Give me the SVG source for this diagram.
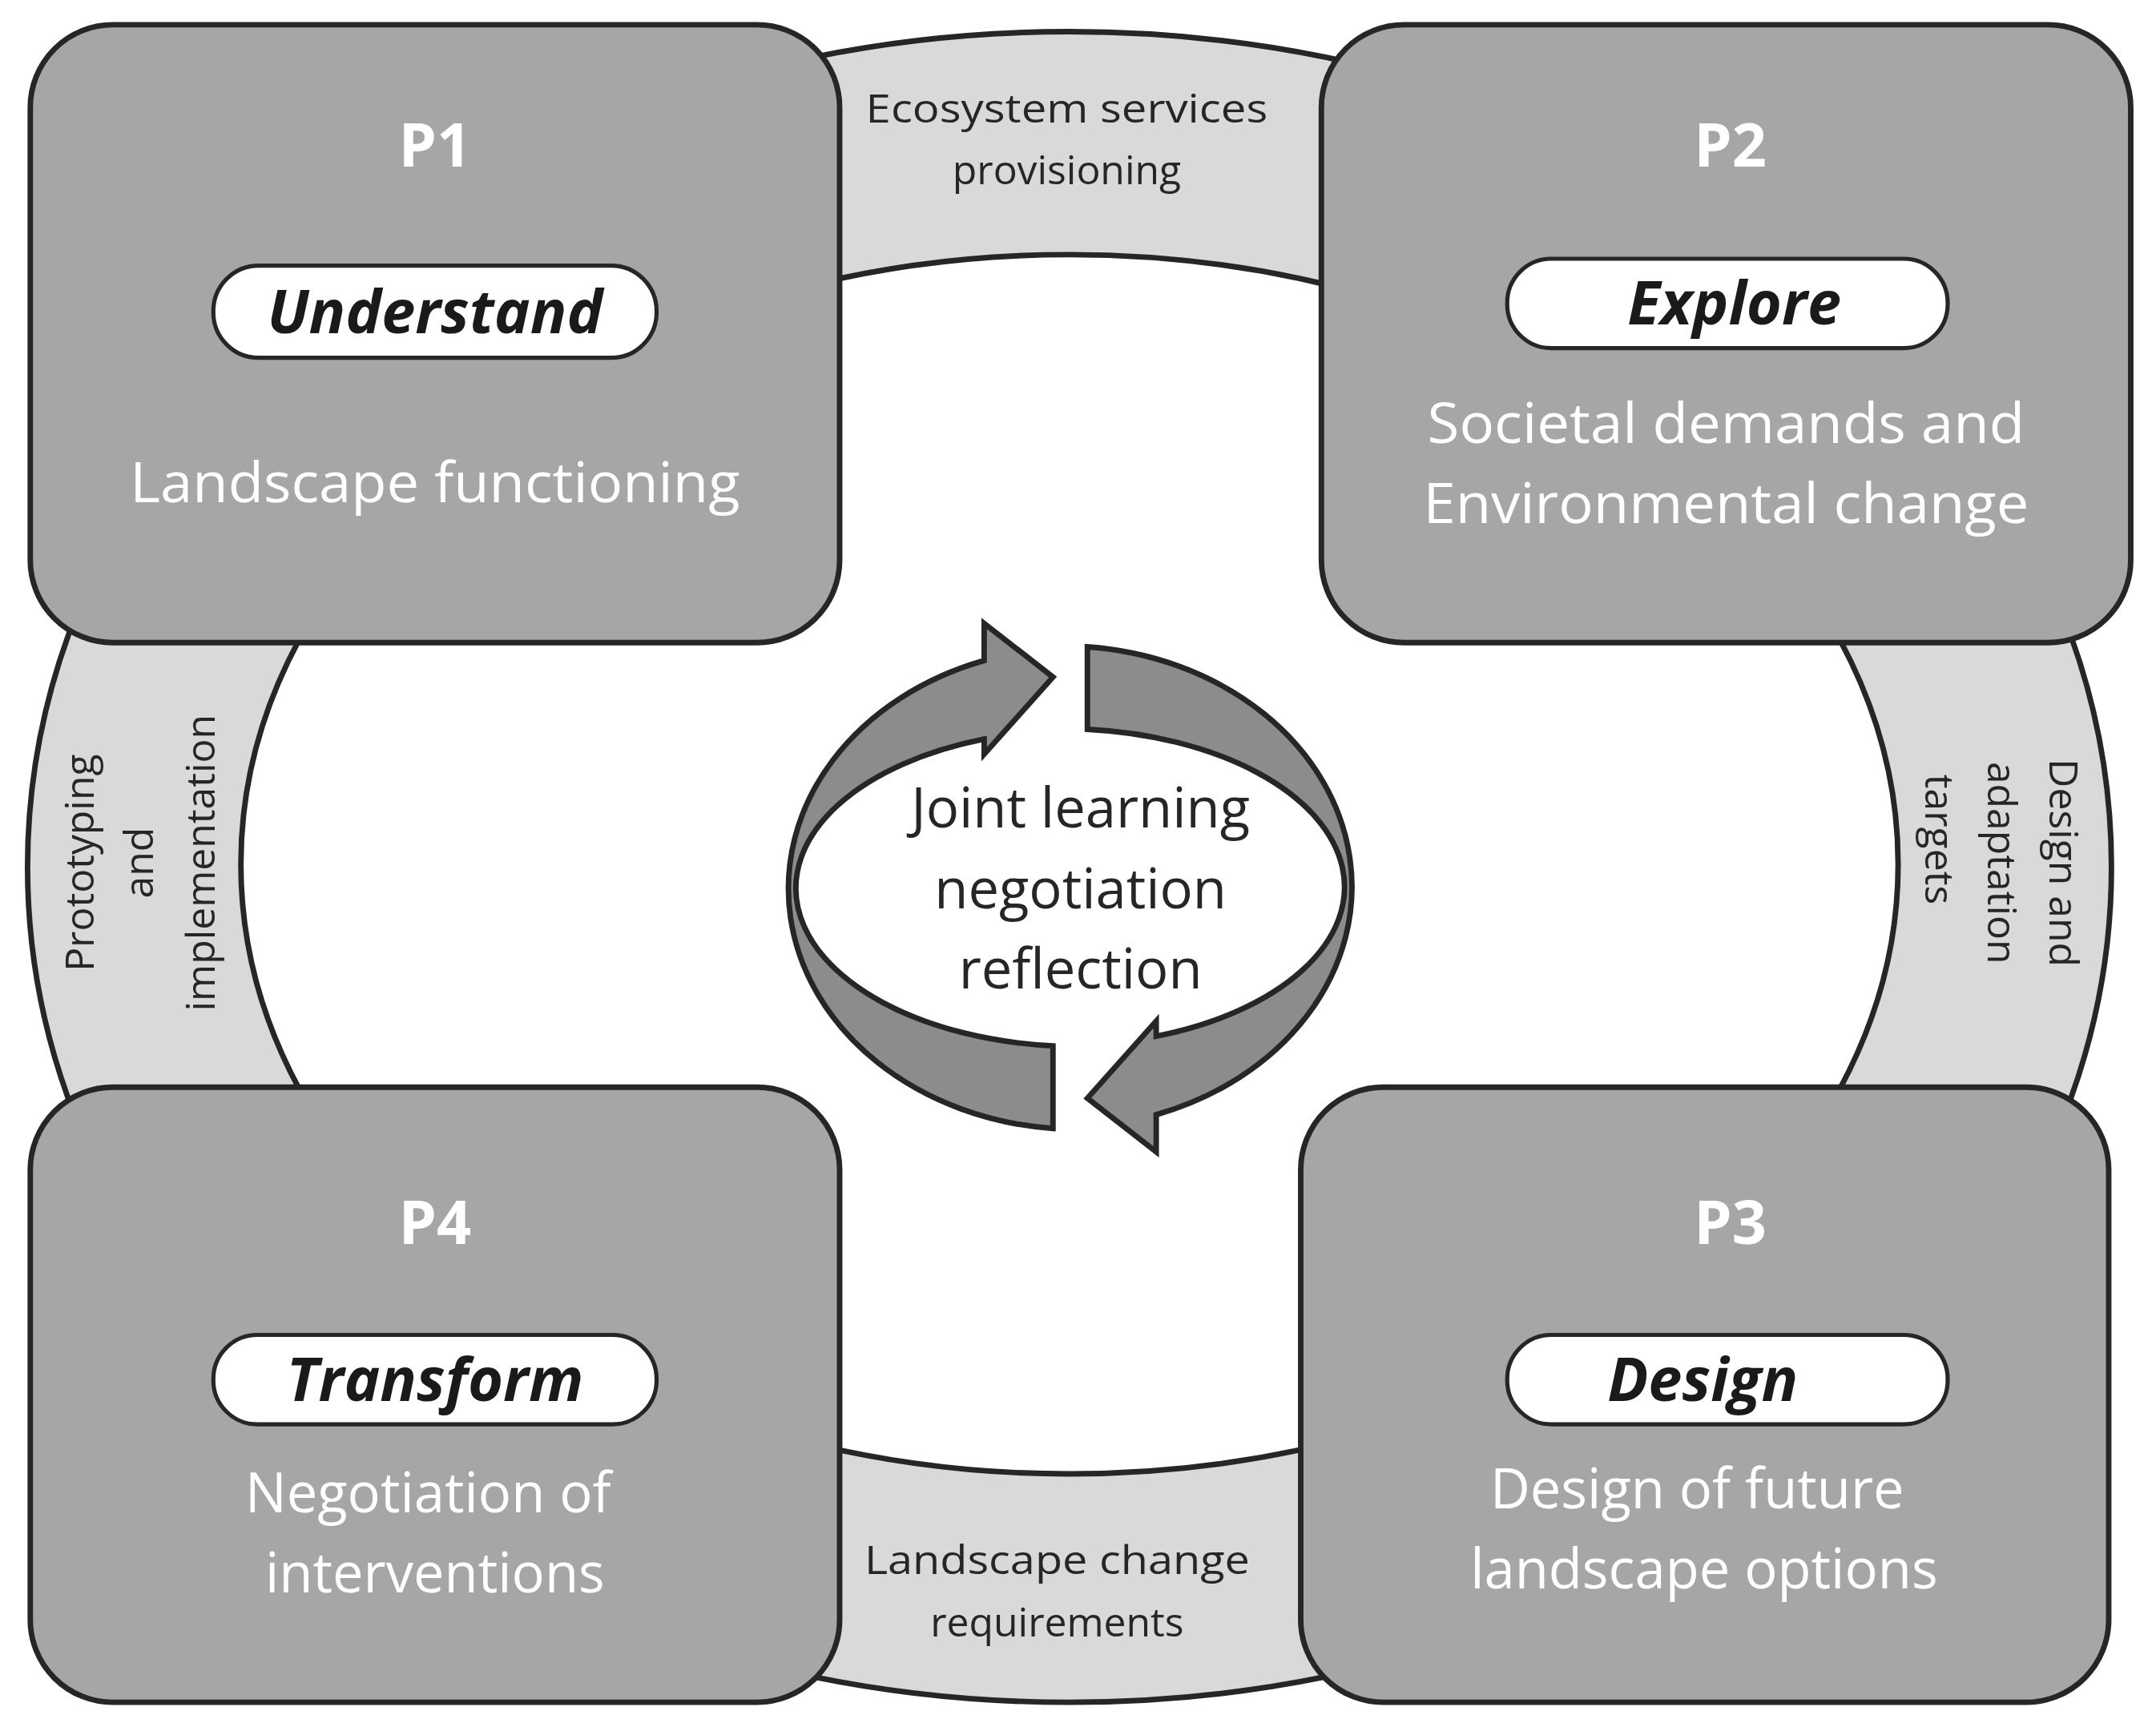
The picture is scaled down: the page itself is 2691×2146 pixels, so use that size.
<svg xmlns="http://www.w3.org/2000/svg" width="2691" height="2146" viewBox="0 0 2691 2146">
<style>
.box{fill:#a6a6a6;stroke:#262626;stroke-width:4}
.pill{fill:#fff;stroke:#262626;stroke-width:3}
.pn{font-family:"Open Sans",sans-serif;font-weight:bold;font-size:44px;fill:#fff;text-anchor:middle}
.vb{font-family:"Open Sans",sans-serif;font-weight:bold;font-style:italic;font-size:44px;fill:#1a1a1a;text-anchor:middle}
.ds{font-family:"Open Sans",sans-serif;font-size:40px;fill:#fff;text-anchor:middle}
.rl{font-family:"Open Sans",sans-serif;font-size:29px;fill:#262626;text-anchor:middle}
.ct{font-family:"Open Sans",sans-serif;font-size:40px;fill:#262626;text-anchor:middle}
.arr{fill:#8c8c8c;stroke:#262626;stroke-width:4;stroke-linejoin:miter}
</style>
<rect width="2691" height="2146" fill="#fff"/>
<g transform="scale(1.718)">
<g id="ring">
<ellipse cx="777" cy="630" rx="757" ry="607" fill="#d9d9d9" stroke="#262626" stroke-width="4"/>
<ellipse cx="777" cy="628" rx="602" ry="443" fill="#fff" stroke="#262626" stroke-width="4"/>
</g>
<g id="connectors">
<text class="rl" x="775" y="89" textLength="292" lengthAdjust="spacingAndGlyphs">Ecosystem services</text>
<text class="rl" x="775" y="134">provisioning</text>
<text class="rl" x="768" y="1144" textLength="280" lengthAdjust="spacingAndGlyphs">Landscape change</text>
<text class="rl" x="768" y="1189">requirements</text>
<text class="rl" transform="translate(68,627) rotate(-90)">Prototyping</text>
<text class="rl" transform="translate(111,627) rotate(-90)">and</text>
<text class="rl" transform="translate(156,627) rotate(-90)">implementation</text>
<text class="rl" transform="translate(1489,627) rotate(90)">Design and</text>
<text class="rl" transform="translate(1444,627) rotate(90)">adaptation</text>
<text class="rl" transform="translate(1399,610) rotate(90)">targets</text>
</g>
<g id="cycle">
<path class="arr" d="M765 820 A210 175 0 0 1 715 480 L715 453 L765 492 L715 548 L715 537 A205 115 0 0 0 765 760 Z"/>
<path class="arr" transform="rotate(180 777.5 645)" d="M765 820 A210 175 0 0 1 715 480 L715 453 L765 492 L715 548 L715 537 A205 115 0 0 0 765 760 Z"/>
<text class="ct" x="785" y="601">Joint learning</text>
<text class="ct" x="785" y="660">negotiation</text>
<text class="ct" x="785" y="718">reflection</text>
</g>
<g id="p1">
<rect class="box" x="22" y="18" width="588" height="449" rx="60"/>
<text class="pn" x="316" y="121">P1</text>
<rect class="pill" x="155" y="193" width="322" height="67" rx="33"/>
<text class="vb" x="316" y="242">Understand</text>
<text class="ds" x="316" y="365" textLength="443" lengthAdjust="spacingAndGlyphs">Landscape functioning</text>
</g>
<g id="p2">
<rect class="box" x="960" y="18" width="588" height="449" rx="60"/>
<text class="pn" x="1257" y="121">P2</text>
<rect class="pill" x="1095" y="188" width="320" height="65" rx="32"/>
<text class="vb" x="1260" y="236">Explore</text>
<text class="ds" x="1254" y="322" textLength="434" lengthAdjust="spacingAndGlyphs">Societal demands and</text>
<text class="ds" x="1254" y="380" textLength="440" lengthAdjust="spacingAndGlyphs">Environmental change</text>
</g>
<g id="p4">
<rect class="box" x="22" y="790" width="588" height="447" rx="60"/>
<text class="pn" x="316" y="904">P4</text>
<rect class="pill" x="155" y="970" width="322" height="65" rx="32"/>
<text class="vb" x="316" y="1018">Transform</text>
<text class="ds" x="311" y="1099">Negotiation of</text>
<text class="ds" x="316" y="1157">interventions</text>
</g>
<g id="p3">
<rect class="box" x="945" y="790" width="587" height="447" rx="60"/>
<text class="pn" x="1257" y="904">P3</text>
<rect class="pill" x="1095" y="970" width="320" height="65" rx="32"/>
<text class="vb" x="1237" y="1018">Design</text>
<text class="ds" x="1233" y="1096">Design of future</text>
<text class="ds" x="1238" y="1154">landscape options</text>
</g>
</g>
</svg>
